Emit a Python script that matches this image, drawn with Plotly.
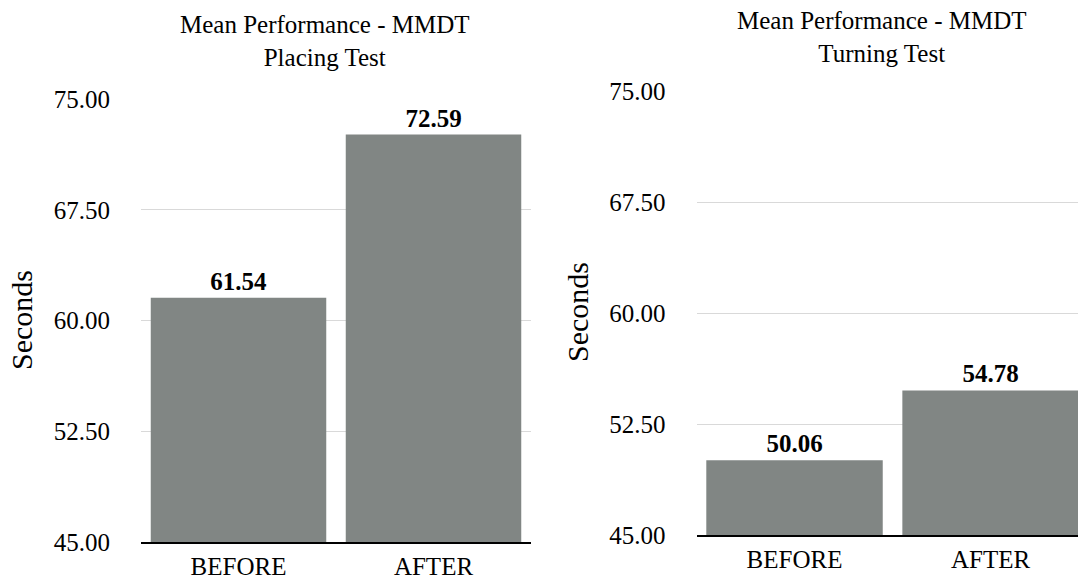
import plotly.graph_objects as go

# Mean MMDT results (seconds) before and after
phases = ["BEFORE", "AFTER"]
placing_means = [61.54, 72.59]
turning_means = [50.06, 54.78]
y_ticks = [45.0, 52.5, 60.0, 67.5, 75.0]
panel_titles = ["Mean Performance - MMDT<br>Placing Test",
                "Mean Performance - MMDT<br>Turning Test"]

W, H = 1078, 581
FONT = "Liberation Serif, Times New Roman, serif"
BAR = "#818684"
FS = 25

def px_x(v):
    return v / W

def px_y(v):
    return 1 - v / H

fig = go.Figure()

fig.add_trace(go.Bar(
    x=phases, y=placing_means, xaxis="x", yaxis="y",
    marker=dict(color=BAR, line=dict(width=0)),
    text=[f"{v:.2f}" for v in placing_means], textposition="outside",
    textfont=dict(family=FONT, size=FS, color="black", weight="bold"),
    cliponaxis=False, showlegend=False, hoverinfo="skip",
))
fig.add_trace(go.Bar(
    x=phases, y=turning_means, xaxis="x2", yaxis="y2",
    marker=dict(color=BAR, line=dict(width=0)),
    text=[f"{v:.2f}" for v in turning_means], textposition="outside",
    textfont=dict(family=FONT, size=FS, color="black", weight="bold"),
    cliponaxis=True, showlegend=False, hoverinfo="skip",
))

yax_common = dict(
    range=[45, 75], tickvals=y_ticks, ticktext=[f"{v:.2f}" for v in y_ticks],
    showgrid=True, gridcolor="#d9d9d9", gridwidth=1, zeroline=False,
    showline=False, ticks="", ticklabelstandoff=30, automargin=False,
    tickfont=dict(family=FONT, size=FS, color="black"),
)
xax_common = dict(
    type="category", categoryorder="array", categoryarray=phases,
    showgrid=False, zeroline=False, showline=True, linecolor="black",
    linewidth=2, ticks="", ticklabelstandoff=1, automargin=False,
    tickfont=dict(family=FONT, size=FS, color="black"),
)

fig.update_layout(
    width=W, height=H,
    margin=dict(l=0, r=0, t=0, b=0, autoexpand=False),
    paper_bgcolor="white", plot_bgcolor="white",
    bargap=0.1,
    font=dict(family=FONT, size=FS, color="black"),
    xaxis=dict(domain=[px_x(141), px_x(531)], range=[-0.5, 1.5],
               anchor="y", **xax_common),
    yaxis=dict(domain=[px_y(542), px_y(99)], anchor="x", **yax_common),
    xaxis2=dict(domain=[px_x(696.5), 1.0], range=[-0.5, 1.446],
                anchor="y2", **xax_common),
    yaxis2=dict(domain=[px_y(535), px_y(91.5)], anchor="x2", **yax_common),
)

# Panel titles
fig.add_annotation(text=panel_titles[0], xref="paper", yref="paper",
                   x=px_x(325), y=px_y(9), xanchor="center", yanchor="top",
                   showarrow=False, font=dict(family=FONT, size=FS, color="black"))
fig.add_annotation(text=panel_titles[1], xref="paper", yref="paper",
                   x=px_x(882), y=px_y(5), xanchor="center", yanchor="top",
                   showarrow=False, font=dict(family=FONT, size=FS, color="black"))

# Y-axis titles
fig.add_annotation(text="Seconds", xref="paper", yref="paper",
                   x=px_x(22), y=px_y(320), xanchor="center", yanchor="middle",
                   textangle=-90, showarrow=False,
                   font=dict(family=FONT, size=30, color="black"))
fig.add_annotation(text="Seconds", xref="paper", yref="paper",
                   x=px_x(577), y=px_y(312), xanchor="center", yanchor="middle",
                   textangle=-90, showarrow=False,
                   font=dict(family=FONT, size=30, color="black"))

fig.write_html("out.html")
